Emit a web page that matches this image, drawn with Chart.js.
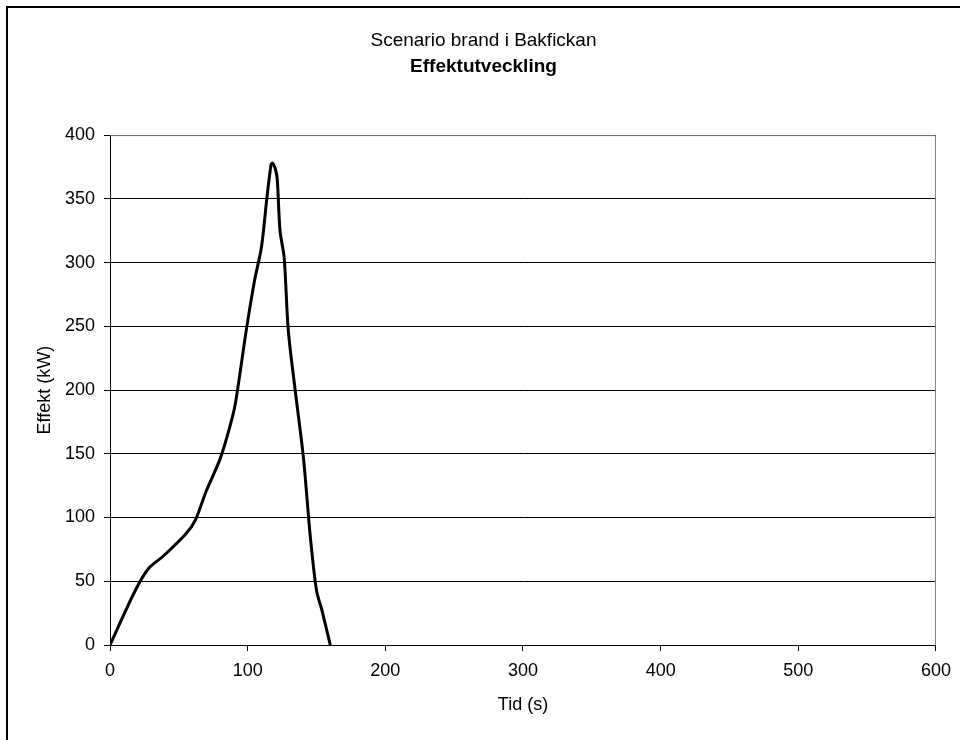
<!DOCTYPE html>
<html>
<head>
<meta charset="utf-8">
<title>Effektutveckling</title>
<script src="https://cdn.jsdelivr.net/npm/chart.js@4.4.1/dist/chart.umd.min.js"></script>
<style>
    html, body { margin: 0; padding: 0; background: #fff; }
    #wrap { width: 960px; height: 740px; }
</style>
</head>
<body>
<div id="wrap"><canvas id="chartEffekt" width="960" height="740"></canvas></div>
<script>
    // tid i sekunder och effekt i kW
    let tid =    [0, 18, 28, 39, 55, 62, 70, 80, 87, 91, 99, 105, 110, 114, 117, 118, 120, 121.5, 123.5, 126.5, 129.5, 134.5, 140.5, 145.5, 150, 154, 160]
    let effekt = [0, 42, 60, 70, 87, 98, 121, 146, 171, 189, 247, 286, 312, 351, 377, 378, 374, 365, 325, 304, 247, 200, 147, 85, 43, 27, 0]
    let tidTicks = [0, 100, 200, 300, 400, 500, 600]
    let effektTicks = [0, 50, 100, 150, 200, 250, 300, 350, 400]

    let punkter = tid.map((t, i) => ({ x: t, y: effekt[i] }))

    // ram runt hela diagrammet och runt ritytan
    const ramar = {
        id: 'ramar',
        beforeDraw: chart => {
            const c = chart.ctx
            c.save()
            c.strokeStyle = '#000'
            c.lineWidth = 2
            c.beginPath()
            c.moveTo(7, 740)
            c.lineTo(7, 7)
            c.lineTo(960, 7)
            c.stroke()
            c.restore()
        },
        afterDatasetsDraw: chart => {
            const a = chart.chartArea
            const c = chart.ctx
            c.save()
            c.strokeStyle = '#808080'
            c.lineWidth = 1
            c.beginPath()
            c.moveTo(a.left, a.top + 0.5)
            c.lineTo(a.right - 0.5, a.top + 0.5)
            c.lineTo(a.right - 0.5, a.bottom)
            c.stroke()
            c.restore()
        }
    }

    const familj = 'Liberation Sans, Arial, sans-serif'
    const font = { family: familj, size: 18 }

    var ctx = document.getElementById('chartEffekt').getContext('2d')

    var chartEffekt = new Chart(ctx, {
        type: 'line',
        data: {
            datasets: [{
                label: 'Effekt',
                data: punkter,
                borderColor: '#000',
                backgroundColor: '#000',
                borderWidth: 3,
                pointRadius: 0,
                tension: 0.3,
                fill: false,
            }]
        },
        options: {
            responsive: false,
            animation: false,
            layout: { padding: { left: 31, right: 24, top: 29, bottom: 0 } },
            plugins: {
                legend: { display: false },
                tooltip: { enabled: false },
                title: {
                    display: true,
                    text: 'Scenario brand i Bakfickan',
                    color: '#000',
                    font: { family: familj, size: 19, weight: 'normal' },
                    padding: { top: 0, bottom: 4 }
                },
                subtitle: {
                    display: true,
                    text: 'Effektutveckling',
                    color: '#000',
                    font: { family: familj, size: 19, weight: 'bold' },
                    padding: { top: 0, bottom: 56.5 }
                }
            },
            scales: {
                x: {
                    type: 'linear',
                    min: 0,
                    max: 600,
                    afterFit: s => { s.height = 95 },
                    afterBuildTicks: s => { s.ticks = tidTicks.map(v => ({ value: v })) },
                    grid: { drawOnChartArea: false, drawTicks: true, tickLength: 6, color: '#000' },
                    border: { color: '#000', width: 1 },
                    ticks: { color: '#000', font: font, padding: 9, maxRotation: 0 },
                    title: { display: true, text: 'Tid (s)', color: '#000', font: font, padding: { top: 0, bottom: 24 } }
                },
                y: {
                    min: 0,
                    max: 400,
                    afterFit: s => { s.width = 79 },
                    afterBuildTicks: s => { s.ticks = effektTicks.map(v => ({ value: v })) },
                    grid: { color: '#000', tickLength: 6, drawTicks: true },
                    border: { color: '#000', width: 1 },
                    ticks: { color: '#000', font: font, padding: 9 },
                    title: { display: true, text: 'Effekt (kW)', color: '#000', font: font, padding: { top: 3, bottom: 0 } }
                }
            }
        },
        plugins: [ramar]
    })
</script>
</body>
</html>
